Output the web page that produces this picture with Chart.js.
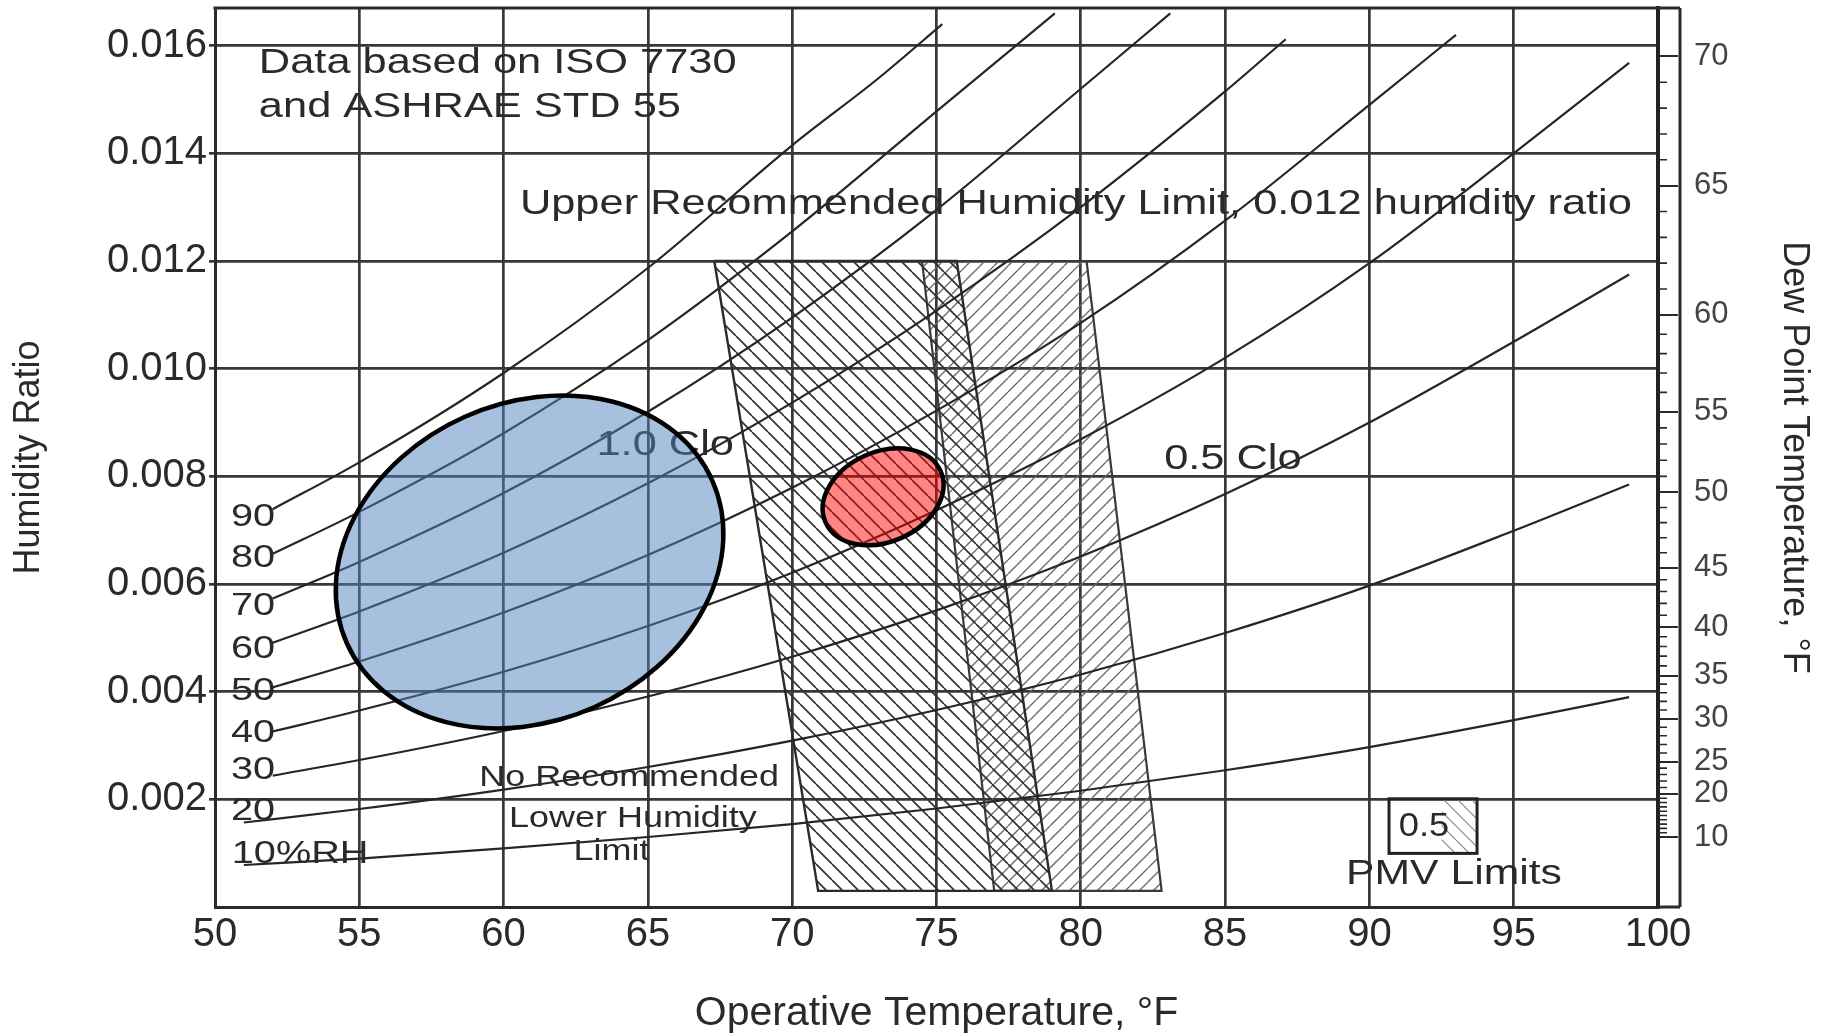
<!DOCTYPE html>
<html>
<head>
<meta charset="utf-8">
<script src="https://cdn.jsdelivr.net/npm/chart.js@4.4.0/dist/chart.umd.min.js"></script>
<style>
  html, body { margin: 0; padding: 0; background: #fff; }
  canvas { display: block; }
</style>
</head>
<body>
<canvas id="myChart" width="1827" height="1036"></canvas>
<script>
// axis ticks
const yTicks = [0.002, 0.004, 0.006, 0.008, 0.010, 0.012, 0.014, 0.016]
const dewLabels = [10, 20, 25, 30, 35, 40, 45, 50, 55, 60, 65, 70]
const dewRatio = [0.0013, 0.0021, 0.0027, 0.0035, 0.0043, 0.0052, 0.0063, 0.0077, 0.0092, 0.0110, 0.0134, 0.0158]

// relative humidity curves (temperature °F, humidity ratio)
const rhNames = ['90', '80', '70', '60', '50', '40', '30', '20', '10%RH']
const rh90T = [52, 55, 60, 65, 70, 73, 75.2]
const rh90W = [0.00739, 0.00826, 0.00992, 0.01187, 0.01415, 0.01540, 0.01640]
const rh80T = [52, 55, 60, 65, 70, 75, 79.1]
const rh80W = [0.00656, 0.00734, 0.00880, 0.01053, 0.01255, 0.01478, 0.01660]
const rh70T = [52, 55, 60, 65, 70, 75, 80, 83.1]
const rh70W = [0.00573, 0.00641, 0.00769, 0.00920, 0.01095, 0.01295, 0.01520, 0.01660]
const rh60T = [52, 55, 60, 65, 70, 75, 80, 85, 87.1]
const rh60W = [0.00491, 0.00549, 0.00658, 0.00787, 0.00937, 0.01108, 0.01300, 0.01515, 0.01612]
const rh50T = [52, 55, 60, 65, 70, 75, 80, 85, 90, 93]
const rh50W = [0.00408, 0.00456, 0.00547, 0.00654, 0.00779, 0.00922, 0.01085, 0.01275, 0.01490, 0.01620]
const rh40T = [52, 55, 60, 65, 70, 75, 80, 85, 90, 95, 99]
const rh40W = [0.00326, 0.00365, 0.00437, 0.00522, 0.00621, 0.00737, 0.00869, 0.01020, 0.01196, 0.01400, 0.01568]
const rh30T = [52, 55, 60, 65, 70, 75, 80, 85, 90, 95, 99]
const rh30W = [0.00244, 0.00273, 0.00327, 0.00391, 0.00465, 0.00551, 0.00651, 0.00767, 0.00900, 0.01050, 0.01175]
const rh20T = [51, 55, 60, 65, 70, 75, 80, 85, 90, 95, 99]
const rh20W = [0.00157, 0.00182, 0.00218, 0.00260, 0.00309, 0.00366, 0.00432, 0.00509, 0.00597, 0.00699, 0.00785]
const rh10T = [51, 55, 60, 65, 70, 75, 80, 85, 90, 95, 99]
const rh10W = [0.00078, 0.00090, 0.00109, 0.00130, 0.00154, 0.00183, 0.00216, 0.00254, 0.00297, 0.00347, 0.00390]
const rhLabelW = [0.00723, 0.00647, 0.00559, 0.00478, 0.00400, 0.00322, 0.00253, 0.00177, 0.000985]

// comfort zones (PMV limits)
const clo10T = [67.3, 75.7, 79.0, 70.9, 67.3]
const clo10W = [0.012, 0.012, 0.0003, 0.0003, 0.012]
const clo05T = [74.5, 80.2, 82.8, 77.0, 74.5]
const clo05W = [0.012, 0.012, 0.0003, 0.0003, 0.012]

const FONT = '"Liberation Sans", Arial, sans-serif'
const INK = '#2a2a2a'

const pts = (t, w) => t.map((x, i) => ({ x: x, y: w[i] }))

const ctx = document.getElementById('myChart')
const g0 = ctx.getContext('2d')

function hatch(color, width, size, back) {
    const c = document.createElement('canvas')
    c.width = size
    c.height = size
    const g = c.getContext('2d')
    g.strokeStyle = color
    g.lineWidth = width
    g.beginPath()
    for (let k = -1; k <= 1; k++) {
        if (back) { g.moveTo(k * size, 0); g.lineTo(k * size + size, size) }
        else { g.moveTo(k * size, size); g.lineTo(k * size + size, 0) }
    }
    g.stroke()
    return g0.createPattern(c, 'repeat')
}

const backHatch = hatch('#333', 1.7, 16, true)
const fwdHatch = hatch('#6a6a6a', 1.4, 14, false)
const legendHatch = hatch('#888', 1.2, 14, true)

const rhSets = [[rh90T, rh90W], [rh80T, rh80W], [rh70T, rh70W], [rh60T, rh60W], [rh50T, rh50W],
    [rh40T, rh40W], [rh30T, rh30W], [rh20T, rh20W], [rh10T, rh10W]]

const datasets = rhSets.map((s, i) => ({
    label: rhNames[i] + ' %',
    data: pts(s[0], s[1]),
    showLine: true,
    borderColor: '#262626',
    borderWidth: 2.2,
    pointRadius: 0,
    cubicInterpolationMode: 'monotone'
}))

datasets.push({
    label: '1.0 Clo',
    data: pts(clo10T, clo10W),
    showLine: true,
    fill: 'shape',
    backgroundColor: backHatch,
    borderColor: '#2b2b2b',
    borderWidth: 2.4,
    pointRadius: 0
})
datasets.push({
    label: '0.5 Clo',
    data: pts(clo05T, clo05W),
    showLine: true,
    fill: 'shape',
    backgroundColor: fwdHatch,
    borderColor: '#3a3a3a',
    borderWidth: 2.2,
    pointRadius: 0
})

// notes placed in data units
const notes = [
    ['Data based on ISO 7730', 51.52, 0.01567, 35, 'left', 1.24],
    ['and ASHRAE STD 55', 51.52, 0.01485, 35, 'left', 1.24],
    ['Upper Recommended Humidity Limit, 0.012 humidity ratio', 79.83, 0.01305, 35, 'center', 1.24],
    ['1.0 Clo', 65.6, 0.00857, 35, 'center', 1.24],
    ['0.5 Clo', 85.27, 0.00831, 35, 'center', 1.24],
    ['No Recommended', 64.35, 0.0024, 29, 'center', 1.24],
    ['Lower Humidity', 64.48, 0.00164, 29, 'center', 1.24],
    ['Limit', 63.74, 0.00102, 29, 'center', 1.24],
    ['PMV Limits', 92.93, 0.00061, 35, 'center', 1.22],
    ['0.5', 91.89, 0.00149, 33, 'center', 1.1]
]

const spots = [
    { t: 60.9, w: 0.00641, rx: 200, ry: 159, rot: -24, fill: 'rgba(79,129,189,0.5)' },
    { t: 73.15, w: 0.00762, rx: 63, ry: 45, rot: -24, fill: 'rgba(255,0,0,0.48)' }
]

function say(g, text, x, y, size, align, sx) {
    g.save()
    g.translate(x, y)
    g.scale(sx, 1)
    g.font = size + 'px ' + FONT
    g.fillStyle = INK
    g.textAlign = align
    g.textBaseline = 'middle'
    g.fillText(text, 0, 0)
    g.restore()
}

// keep the plot box fixed: no extra room for half tick labels
function noPad(s) {
    s.paddingTop = 0
    s.paddingBottom = 0
    s.paddingLeft = 0
    s.paddingRight = 0
}

const extras = {
    id: 'extras',
    afterDatasetsDraw(chart) {
        const g = chart.ctx
        const sx = chart.scales.x, sy = chart.scales.y
        const a = chart.chartArea
        const bandX = a.right + 22

        // RH labels
        rhNames.forEach((n, i) => {
            const t = i === rhNames.length - 1 ? 52.95 : 51.32
            say(g, n, sx.getPixelForValue(t), sy.getPixelForValue(rhLabelW[i]), 31, 'center', 1.28)
        })

        // PMV legend box
        const bx0 = sx.getPixelForValue(90.68), bx1 = sx.getPixelForValue(93.73)
        const by0 = sy.getPixelForValue(0.00201), by1 = sy.getPixelForValue(0.000996)
        g.save()
        g.fillStyle = legendHatch
        g.fillRect(sx.getPixelForValue(92.5), by0, bx1 - sx.getPixelForValue(92.5), by1 - by0)
        g.strokeStyle = '#222'
        g.lineWidth = 3
        g.strokeRect(bx0, by0, bx1 - bx0, by1 - by0)
        g.restore()

        notes.forEach(n => say(g, n[0], sx.getPixelForValue(n[1]), sy.getPixelForValue(n[2]), n[3], n[4], n[5]))

        // frame: top edge and dew point band
        g.save()
        g.strokeStyle = '#2a2a2a'
        g.lineWidth = 3
        g.beginPath()
        g.moveTo(a.left - 1.5, a.top)
        g.lineTo(bandX, a.top)
        g.moveTo(bandX, a.top)
        g.lineTo(bandX, a.bottom)
        g.moveTo(a.right, a.bottom)
        g.lineTo(bandX, a.bottom)
        g.stroke()

        // minor dew point ticks every 1 °F
        g.lineWidth = 1.6
        g.beginPath()
        for (let i = 0; i < dewLabels.length - 1; i++) {
            const d1 = dewLabels[i], d2 = dewLabels[i + 1]
            for (let k = 1; k < d2 - d1; k++) {
                const w = dewRatio[i] + (dewRatio[i + 1] - dewRatio[i]) * k / (d2 - d1)
                const y = sy.getPixelForValue(w)
                g.moveTo(a.right, y)
                g.lineTo(a.right + 9, y)
            }
        }
        g.stroke()
        g.restore()

        // highlighted ellipses
        spots.forEach(s => {
            g.save()
            g.beginPath()
            g.ellipse(sx.getPixelForValue(s.t), sy.getPixelForValue(s.w), s.rx, s.ry, s.rot * Math.PI / 180, 0, Math.PI * 2)
            g.fillStyle = s.fill
            g.fill()
            g.lineWidth = 4.5
            g.strokeStyle = '#000'
            g.stroke()
            g.restore()
        })
    }
}

const myChart = new Chart(ctx, {
    type: 'scatter',
    data: { datasets: datasets },
    plugins: [extras],
    options: {
        responsive: false,
        animation: false,
        devicePixelRatio: 1,
        layout: { padding: { top: 8, left: 0, right: 0, bottom: 0 } },
        plugins: { legend: { display: false }, tooltip: { enabled: false } },
        scales: {
            x: {
                type: 'linear',
                min: 50,
                max: 100,
                ticks: { stepSize: 5, color: INK, padding: 4, font: { family: FONT, size: 40 } },
                grid: { color: '#383838', lineWidth: 2.7, drawTicks: false },
                border: { color: '#2a2a2a', width: 3 },
                title: { display: true, text: 'Operative Temperature, °F', color: INK,
                    font: { family: FONT, size: 41, lineHeight: 1.1 }, padding: { top: 0, bottom: 0 } },
                afterFit: s => { s.height = 129; noPad(s) }
            },
            y: {
                min: 0,
                max: 0.0167,
                afterBuildTicks: ax => { ax.ticks = yTicks.map(v => ({ value: v })) },
                ticks: { autoSkip: false, color: INK, padding: 2, font: { family: FONT, size: 40 },
                    callback: v => v.toFixed(3) },
                grid: { color: '#383838', lineWidth: 2.7, tickLength: 6 },
                border: { color: '#2a2a2a', width: 3 },
                title: { display: true, text: 'Humidity Ratio', color: INK,
                    font: { family: FONT, size: 36, lineHeight: 1.2 }, padding: { top: 7, bottom: 0 } },
                afterFit: s => { s.width = 215; noPad(s) }
            },
            y2: {
                position: 'right',
                min: 0,
                max: 0.0167,
                afterBuildTicks: ax => { ax.ticks = dewRatio.map(v => ({ value: v })) },
                ticks: { autoSkip: false, color: '#444', padding: 16, font: { family: FONT, size: 31 },
                    callback: (v, i) => dewLabels[i] },
                grid: { drawOnChartArea: false, tickLength: 20, color: '#2a2a2a', lineWidth: 2 },
                border: { color: '#222', width: 4 },
                title: { display: true, text: 'Dew Point Temperature, °F', color: INK,
                    font: { family: FONT, size: 36, lineHeight: 1.2 }, padding: { top: 11, bottom: 0 } },
                afterFit: s => { s.width = 169; noPad(s) }
            }
        }
    }
})
</script>
</body>
</html>
